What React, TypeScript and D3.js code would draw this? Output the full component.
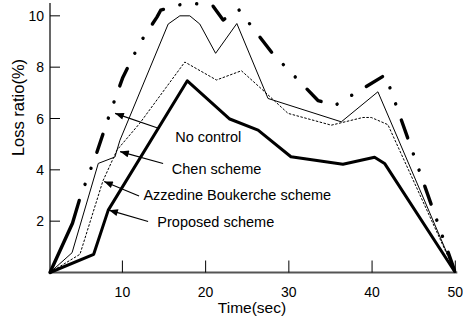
import { useEffect, useRef } from "react"
import * as d3 from "d3"

type Pt = [number, number]

// time (sec), loss ratio (%)
const noControl: Pt[] = [
  [1.3, 0], [4.0, 1.92], [4.9, 2.9], [6.9, 4.65], [8.5, 6.2], [10.05, 7.6],
  [12.1, 8.94], [14.15, 9.95], [14.6, 10.22], [17.7, 10.5], [20.8, 10.42],
  [22.1, 9.84], [24.0, 10.23], [28.0, 8.55], [33.5, 6.7], [35.5, 6.5],
  [41.6, 7.7], [50, 0],
]
const chen: Pt[] = [
  [1.3, 0], [3.95, 0.77], [7.1, 4.25], [9.1, 4.5], [9.7, 5.15], [15.5, 9.68],
  [16.9, 10.0], [18.1, 10.0], [19.3, 9.68], [21.2, 8.54], [23.75, 9.7],
  [27.5, 6.78], [36.3, 5.87], [40.7, 7.04], [50, 0],
]
const azzedine: Pt[] = [
  [1.3, 0], [4.9, 0.71], [7.65, 3.56], [9.35, 4.77], [12.1, 5.82], [17.5, 8.2],
  [21.3, 7.5], [24.3, 7.86], [27.1, 7.04], [29.9, 6.2], [35.1, 5.74],
  [38.9, 6.04], [39.9, 6.04], [41.9, 5.76], [50, 0],
]
const proposed: Pt[] = [
  [1.3, 0], [6.55, 0.71], [8.3, 2.43], [17.8, 7.47], [22.9, 5.98], [26.3, 5.55],
  [30.25, 4.51], [36.5, 4.22], [40.3, 4.49], [41.5, 4.25], [50, 0],
]

const xTicks = [10, 20, 30, 40, 50]
const yTicks = [2, 4, 6, 8, 10]

// label text, arrow tip, arrow tail, text anchor point (all in data units)
const labels = ["No control", "Chen scheme", "Azzedine Boukerche scheme", "Proposed scheme"]
const arrowTips: Pt[] = [[9.12, 6.2], [9.72, 4.71], [7.8, 3.55], [8.4, 2.43]]
const arrowTails: Pt[] = [[14.41, 5.61], [14.89, 4.25], [12.0, 2.98], [13.09, 1.99]]
const labelAt: Pt[] = [[16.34, 5.1], [15.94, 3.84], [12.52, 2.82], [14.2, 1.78]]

const INK = "#000"
const FONT = "'Liberation Sans', Arial, Helvetica, sans-serif"

export default function App() {
  const ref = useRef<SVGSVGElement>(null)

  useEffect(() => {
    if (!ref.current) return
    const svg = d3.select(ref.current)
    svg.selectAll("*").remove()

    const W = 463
    const H = 322
    svg.attr("width", W).attr("height", H).attr("viewBox", `0 0 ${W} ${H}`)

    const x = d3.scaleLinear().domain([1.3, 50]).range([50, 455.3])
    const y = d3.scaleLinear().domain([0, 10.5]).range([272.5, 3])

    const line = d3
      .line<Pt>()
      .x((d) => x(d[0]))
      .y((d) => y(d[1]))

    // arrowhead
    svg
      .append("defs")
      .append("marker")
      .attr("id", "head")
      .attr("markerUnits", "userSpaceOnUse")
      .attr("viewBox", "0 0 10 8")
      .attr("refX", 10)
      .attr("refY", 4)
      .attr("markerWidth", 10)
      .attr("markerHeight", 7)
      .attr("orient", "auto-start-reverse")
      .append("path")
      .attr("d", "M0,0 L10,4 L0,8 Z")
      .attr("fill", INK)

    // Axes
    svg
      .append("line")
      .attr("x1", x(1.3))
      .attr("x2", x(1.3))
      .attr("y1", 3)
      .attr("y2", y(0))
      .attr("stroke", INK)
      .attr("stroke-width", 1.2)
    svg
      .append("line")
      .attr("x1", x(1.3))
      .attr("x2", x(50) + 2)
      .attr("y1", y(0))
      .attr("y2", y(0))
      .attr("stroke", "#555")
      .attr("stroke-width", 2)

    svg
      .append("g")
      .selectAll("line")
      .data(xTicks)
      .join("line")
      .attr("x1", (t) => x(t))
      .attr("x2", (t) => x(t))
      .attr("y1", y(0))
      .attr("y2", y(0) - 12)
      .attr("stroke", INK)
      .attr("stroke-width", 1)

    svg
      .append("g")
      .selectAll("line")
      .data(yTicks)
      .join("line")
      .attr("x1", x(1.3))
      .attr("x2", x(1.3) + 10)
      .attr("y1", (t) => y(t))
      .attr("y2", (t) => y(t))
      .attr("stroke", INK)
      .attr("stroke-width", 1)

    svg
      .append("g")
      .selectAll("text")
      .data(xTicks)
      .join("text")
      .attr("x", (t) => x(t))
      .attr("y", 296.5)
      .attr("text-anchor", "middle")
      .attr("font-family", FONT)
      .attr("font-size", 14)
      .attr("fill", INK)
      .text((t) => t)

    svg
      .append("g")
      .selectAll("text")
      .data(yTicks)
      .join("text")
      .attr("x", 44)
      .attr("y", (t) => y(t))
      .attr("dy", "0.36em")
      .attr("text-anchor", "end")
      .attr("font-family", FONT)
      .attr("font-size", 14)
      .attr("fill", INK)
      .text((t) => t)

    svg
      .append("text")
      .attr("x", 252)
      .attr("y", 313)
      .attr("text-anchor", "middle")
      .attr("font-family", FONT)
      .attr("font-size", 15.5)
      .attr("fill", INK)
      .text("Time(sec)")

    svg
      .append("text")
      .attr("transform", `translate(23.5, 107.5) rotate(-90)`)
      .attr("text-anchor", "middle")
      .attr("font-family", FONT)
      .attr("font-size", 16.5)
      .attr("fill", INK)
      .text("Loss ratio(%)")

    // Series
    svg
      .append("path")
      .datum(chen)
      .attr("d", line)
      .attr("fill", "none")
      .attr("stroke", INK)
      .attr("stroke-width", 1)

    svg
      .append("path")
      .datum(azzedine)
      .attr("d", line)
      .attr("fill", "none")
      .attr("stroke", INK)
      .attr("stroke-width", 1)
      .attr("stroke-dasharray", "2.5 1.5")

    svg
      .append("path")
      .datum(proposed)
      .attr("d", line)
      .attr("fill", "none")
      .attr("stroke", INK)
      .attr("stroke-width", 3)
      .attr("stroke-linejoin", "round")

    const nc = svg
      .append("path")
      .datum(noControl)
      .attr("d", line)
      .attr("fill", "none")
      .attr("stroke", INK)
      .attr("stroke-width", 3.4)
      .attr("stroke-linecap", "round")
      .attr("stroke-linejoin", "round")

    // dash-dot-dot with a long first dash out of the origin
    const total = (nc.node() as SVGPathElement).getTotalLength()
    const dashes: number[] = [78]
    let run = 78
    const cycle = [17, 0.1, 17, 0.1, 17, 19]
    while (run < total + 100) {
      for (const c of cycle) {
        dashes.push(c)
        run += c
      }
    }
    nc.attr("stroke-dasharray", dashes.join(" "))

    // Annotations
    const notes = svg.append("g")
    labels.forEach((lab, i) => {
      notes
        .append("line")
        .attr("x1", x(arrowTails[i][0]))
        .attr("y1", y(arrowTails[i][1]))
        .attr("x2", x(arrowTips[i][0]))
        .attr("y2", y(arrowTips[i][1]))
        .attr("stroke", INK)
        .attr("stroke-width", 1.1)
        .attr("marker-end", "url(#head)")
      notes
        .append("text")
        .attr("x", x(labelAt[i][0]))
        .attr("y", y(labelAt[i][1]))
        .attr("font-family", FONT)
        .attr("font-size", 14.5)
        .attr("fill", INK)
        .text(lab)
    })
  }, [])

  return (
    <svg
      ref={ref}
      style={{ position: "absolute", left: 0, top: 0, display: "block", background: "#fff" }}
    />
  )
}
